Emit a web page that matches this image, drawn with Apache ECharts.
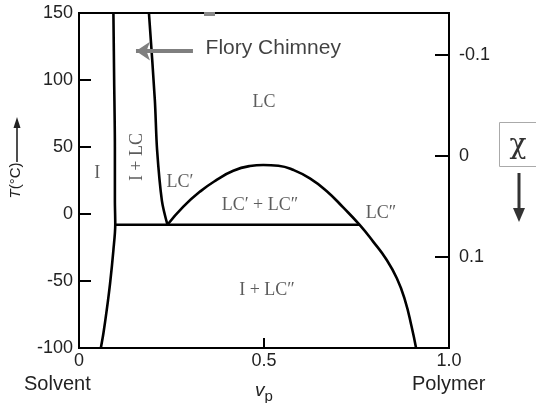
<!DOCTYPE html>
<html>
<head>
<meta charset="utf-8">
<script src="https://cdn.jsdelivr.net/npm/echarts@6/dist/echarts.min.js"></script>
<style>
  html, body { margin: 0; padding: 0; background: #fff; }
  #chart { width: 536px; height: 403px; }
</style>
</head>
<body>
<div id="chart"></div>
<script>
// ---- data (v_p volume fraction, T in °C) ----
const leftBinodal = [[0.093,150],[0.095,100],[0.097,50],[0.097,10.4],[0.098,-8],[0.093,-26.9],[0.084,-51.7],[0.075,-71.6],[0.066,-89],[0.059,-100]];
const chimneyRight = [[0.189,150],[0.205,85],[0.211,48],[0.224,10],[0.239,-8]];
const dome = [[0.239,-8],[0.282,5.5],[0.327,16.7],[0.372,25.4],[0.417,32.3],[0.462,35.8],[0.498,36.6],[0.539,36],[0.58,32.8],[0.624,26.6],[0.669,17.2],[0.714,4.9],[0.758,-8],[0.795,-20.6],[0.830,-33.6],[0.859,-48],[0.881,-64.2],[0.899,-84.1],[0.911,-100]];
const tieLine = [[0.098,-8],[0.758,-8]];
const floryArrow = [[0.308,121.6],[0.154,121.6]];

const xTicks = [0, 0.5, 1.0];
const xTickLabels = ['0', '0.5', '1.0'];
const tTicks = [-100, -50, 0, 50, 100, 150];
const chiTicks = [-0.1, 0, 0.1];
const chiTickLabels = ['-0.1', '0', '0.1'];

const regionLabels = [
  { name: 'LC', pos: [0.5, 83.6], rotate: 0 },
  { name: 'I', pos: [0.049, 30.6], rotate: 0 },
  { name: 'I + LC', pos: [0.157, 42.5], rotate: 90 },
  { name: 'LC\u2032', pos: [0.273, 23.9], rotate: 0 },
  { name: 'LC\u2032 + LC\u2033', pos: [0.489, 6.7], rotate: 0 },
  { name: 'LC\u2033', pos: [0.816, 0.7], rotate: 0 },
  { name: 'I + LC\u2033', pos: [0.508, -56.7], rotate: 0 }
];
const floryText = { name: 'Flory Chimney', pos: [0.525, 123.9] };

const chart = echarts.init(document.getElementById('chart'), null, { renderer: 'canvas' });

const curveStyle = { color: '#000', width: 2.6 };
const lineSeries = (data, smooth) => ({
  type: 'line', data: data, showSymbol: false, smooth: smooth,
  lineStyle: curveStyle, itemStyle: { color: '#000' }, silent: true, clip: true,
  xAxisIndex: 0, yAxisIndex: 0
});

const option = {
  animation: false,
  backgroundColor: '#fff',
  grid: { left: 79, right: 87, top: 13, bottom: 55, containLabel: false, outerBoundsMode: 'none',
    show: true, borderColor: '#000', borderWidth: 2, backgroundColor: 'transparent' },
  xAxis: {
    type: 'value', min: 0, max: 1, interval: 0.5,
    axisLine: { onZero: false, lineStyle: { color: '#000', width: 2 } },
    axisTick: { inside: true, length: 10, lineStyle: { color: '#000', width: 2 } },
    axisLabel: {
      color: '#222', fontSize: 18, fontFamily: 'Liberation Sans', margin: 4,
      formatter: v => { const i = xTicks.findIndex(t => Math.abs(t - v) < 1e-9); return i >= 0 ? xTickLabels[i] : ''; }
    },
    splitLine: { show: false },
    name: '{i|v}{s|p}', nameLocation: 'middle', nameGap: 30,
    nameTextStyle: {
      rich: {
        i: { fontFamily: 'Liberation Sans', fontStyle: 'italic', fontSize: 19, color: '#222' },
        s: { fontFamily: 'Liberation Sans', fontSize: 15, color: '#222', verticalAlign: 'bottom', padding: [11, 0, 0, 0] }
      }
    }
  },
  yAxis: [
    {
      type: 'value', min: -100, max: 150, interval: 50, position: 'left',
      axisLine: { show: true, onZero: false, lineStyle: { color: '#000', width: 2 } },
      axisTick: { show: true, inside: true, length: 12, lineStyle: { color: '#000', width: 2 } },
      axisLabel: { color: '#222', fontSize: 18, fontFamily: 'Liberation Sans', margin: 6 },
      splitLine: { show: false },
      name: '{i|T}{n|(°C)}', nameLocation: 'middle', nameGap: 56, nameRotate: 90,
      nameTextStyle: {
        padding: [0, 0, 0, 0],
        rich: {
          i: { fontFamily: 'Liberation Sans', fontStyle: 'italic', fontSize: 15, color: '#222' },
          n: { fontFamily: 'Liberation Sans', fontSize: 15, color: '#222' }
        }
      }
    },
    {
      type: 'value', min: -0.1416, max: 0.190, inverse: true, position: 'right',
      axisLine: { show: true, onZero: false, lineStyle: { color: '#000', width: 2 } },
      axisTick: { show: true, inside: true, length: 14, customValues: chiTicks, lineStyle: { color: '#000', width: 2 } },
      axisLabel: {
        color: '#222', fontSize: 18, fontFamily: 'Liberation Sans', margin: 10, customValues: chiTicks,
        formatter: v => { const i = chiTicks.findIndex(t => Math.abs(t - v) < 1e-9); return i >= 0 ? chiTickLabels[i] : ''; }
      },
      splitLine: { show: false }
    }
  ],
  series: [
    lineSeries(leftBinodal, 0.3),
    lineSeries(chimneyRight, 0.3),
    lineSeries(dome, 0.5),
    lineSeries(tieLine, false),
    {
      type: 'line', data: [], xAxisIndex: 0, yAxisIndex: 0, silent: true,
      markLine: {
        silent: true, animation: false,
        symbol: ['none', 'arrow'], symbolSize: [14, 14],
        label: { show: false },
        lineStyle: { color: '#7f7f7f', width: 4, type: 'solid' },
        data: [[{ coord: floryArrow[0] }, { coord: floryArrow[1] }]]
      }
    },
    {
      type: 'scatter', symbolSize: 0, silent: true, xAxisIndex: 0, yAxisIndex: 0,
      data: regionLabels.map(r => ({
        value: r.pos, name: r.name,
        label: { show: true, position: 'inside', formatter: r.name, rotate: r.rotate,
          fontFamily: 'Liberation Serif', fontSize: 18, color: '#333' }
      }))
    },
    {
      type: 'scatter', symbolSize: 0, silent: true, xAxisIndex: 0, yAxisIndex: 0,
      data: [{ value: floryText.pos, name: floryText.name,
        label: { show: true, position: 'inside', formatter: floryText.name,
          fontFamily: 'Liberation Sans', fontSize: 21, color: '#111' } }]
    }
  ],
  graphic: [
    { type: 'line', shape: { x1: 17, y1: 162, x2: 17, y2: 126 }, style: { stroke: '#222', lineWidth: 1.6 } },
    { type: 'polygon', shape: { points: [[13.5, 128], [20.5, 128], [17, 117]] }, style: { fill: '#222' } },
    { type: 'text', left: 24, top: 374, style: { text: 'Solvent', font: '20px "Liberation Sans"', fill: '#222' } },
    { type: 'text', left: 412, top: 374, style: { text: 'Polymer', font: '20px "Liberation Sans"', fill: '#222' } },
    { type: 'rect', shape: { x: 499.5, y: 122.5, width: 40, height: 44 }, style: { fill: '#fff', stroke: '#aaa', lineWidth: 1 } },
    { type: 'text', x: 518, y: 146, style: { text: '\u03C7', font: '28px "DejaVu Serif"', fill: '#333', align: 'center', verticalAlign: 'middle' } },
    { type: 'line', shape: { x1: 519, y1: 173, x2: 519, y2: 212 }, style: { stroke: '#333', lineWidth: 3 } },
    { type: 'polygon', shape: { points: [[513, 208], [525, 208], [519, 222]] }, style: { fill: '#333' } },
    { type: 'rect', shape: { x: 204, y: 12, width: 11, height: 4 }, style: { fill: '#888' } }
  ]
};

chart.setOption(option);
</script>
</body>
</html>
